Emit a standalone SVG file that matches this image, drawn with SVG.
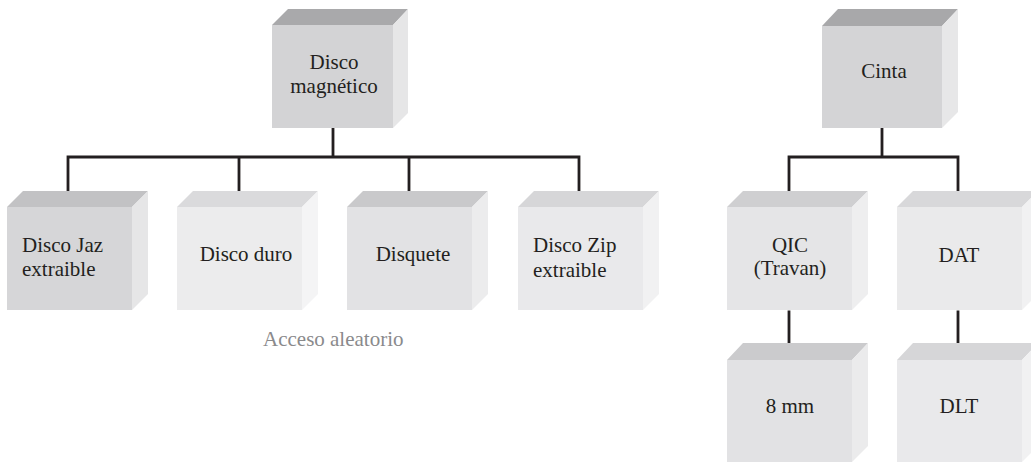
<svg xmlns="http://www.w3.org/2000/svg" width="1031" height="463" viewBox="0 0 1031 463">
<style>
.t{font-family:"Liberation Serif","Times New Roman",serif;font-size:21px;fill:#231f20}
.c{text-anchor:middle}
.lbl{fill:#8a8a8c}
.ln{stroke:#231f20;stroke-width:2.8;fill:none;stroke-linecap:square}
</style>
<rect width="1031" height="463" fill="#ffffff"/>
<g id="connectors">
<path class="ln" d="M333 128 V157 M68 157 H579 M68 157 V197 M239 157 V197 M409 157 V197 M579 157 V197"/>
<path class="ln" d="M882 128 V157 M789 157 H958 M789 157 V197 M958 157 V197 M789 312 V352 M958 312 V352"/>
</g>
<g id="disco-magnetico">
<polygon points="272,25 288,9 408,9 393,25" fill="#a9a9ab"/>
<polygon points="393,25 408,9 408,113 393,128" fill="#e6e6e7"/>
<rect x="272" y="25" width="121" height="103" fill="#d3d3d5"/>
<text class="t c" x="334" y="69">Disco</text>
<text class="t c" x="334" y="93">magnético</text>
</g>
<g id="cinta">
<polygon points="822,26 838,9 958,9 942,26" fill="#a8a8aa"/>
<polygon points="942,26 958,9 958,112 942,128" fill="#e7e7e8"/>
<rect x="822" y="26" width="120" height="102" fill="#d4d4d6"/>
<text class="t c" x="884" y="78">Cinta</text>
</g>
<g id="disco-jaz">
<polygon points="7,207 23,191 148,191 132,207" fill="#c2c2c4"/>
<polygon points="132,207 148,191 148,294 132,310" fill="#e6e6e7"/>
<rect x="7" y="207" width="125" height="103" fill="#d6d6d8"/>
<text class="t" x="22" y="252">Disco Jaz</text>
<text class="t" x="22" y="276">extraible</text>
</g>
<g id="disco-duro">
<polygon points="177,207 193,191 318,191 302,207" fill="#dadadc"/>
<polygon points="302,207 318,191 318,294 302,310" fill="#f4f4f5"/>
<rect x="177" y="207" width="125" height="103" fill="#ececed"/>
<text class="t c" x="246" y="261">Disco duro</text>
</g>
<g id="disquete">
<polygon points="347,207 363,191 488,191 472,207" fill="#c9c9cb"/>
<polygon points="472,207 488,191 488,294 472,310" fill="#ececed"/>
<rect x="347" y="207" width="125" height="103" fill="#e2e2e4"/>
<text class="t c" x="413" y="261">Disquete</text>
</g>
<g id="disco-zip">
<polygon points="518,207 534,191 659,191 643,207" fill="#d6d6d8"/>
<polygon points="643,207 659,191 659,294 643,310" fill="#f1f1f2"/>
<rect x="518" y="207" width="125" height="103" fill="#e9e9eb"/>
<text class="t" x="533" y="252">Disco Zip</text>
<text class="t" x="533" y="277">extraible</text>
</g>
<g id="qic">
<polygon points="727,207 743,191 868,191 852,207" fill="#cfcfd1"/>
<polygon points="852,207 868,191 868,294 852,310" fill="#eeeeef"/>
<rect x="727" y="207" width="125" height="103" fill="#e5e5e7"/>
<text class="t c" x="790" y="252">QIC</text>
<text class="t c" x="790" y="275">(Travan)</text>
</g>
<g id="dat">
<polygon points="897,207 913,191 1038,191 1022,207" fill="#d8d8da"/>
<polygon points="1022,207 1038,191 1038,294 1022,310" fill="#f1f1f2"/>
<rect x="897" y="207" width="125" height="103" fill="#eaeaeb"/>
<text class="t c" x="959" y="262">DAT</text>
</g>
<g id="mm8">
<polygon points="727,360 743,343 868,343 852,360" fill="#cbcbcd"/>
<polygon points="852,360 868,343 868,446 852,462" fill="#ebebec"/>
<rect x="727" y="360" width="125" height="102" fill="#e2e2e4"/>
<text class="t c" x="790" y="413">8 mm</text>
</g>
<g id="dlt">
<polygon points="897,360 913,343 1038,343 1022,360" fill="#d6d6d8"/>
<polygon points="1022,360 1038,343 1038,446 1022,462" fill="#f1f1f2"/>
<rect x="897" y="360" width="125" height="102" fill="#e9e9eb"/>
<text class="t c" x="959" y="413">DLT</text>
</g>
<g id="acceso-aleatorio">
<text class="t lbl" x="263" y="346">Acceso aleatorio</text>
</g>
</svg>
